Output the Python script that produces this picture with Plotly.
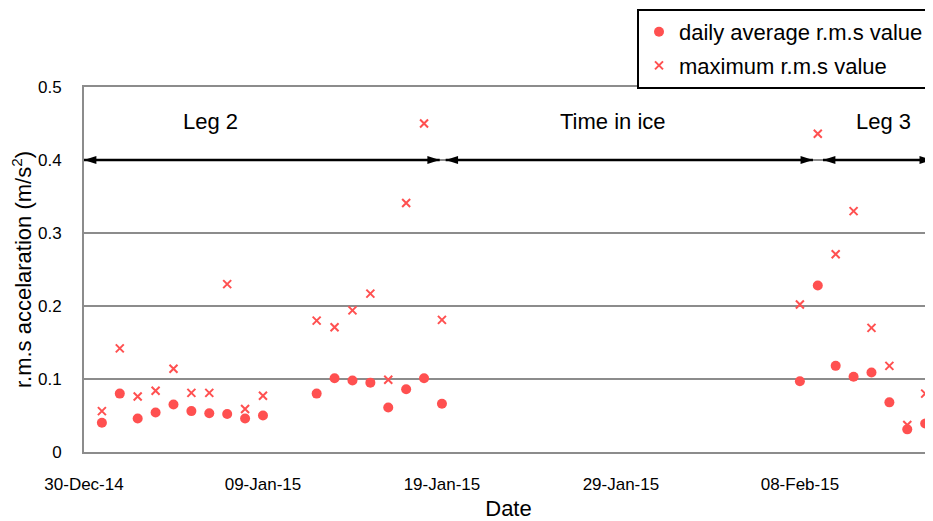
import plotly.graph_objects as go

# ---- data ----
dates = ["2014-12-31", "2015-01-01", "2015-01-02", "2015-01-03", "2015-01-04",
         "2015-01-05", "2015-01-06", "2015-01-07", "2015-01-08", "2015-01-09",
         "2015-01-12", "2015-01-13", "2015-01-14", "2015-01-15", "2015-01-16",
         "2015-01-17", "2015-01-18", "2015-01-19",
         "2015-02-08", "2015-02-09", "2015-02-10", "2015-02-11", "2015-02-12",
         "2015-02-13", "2015-02-14", "2015-02-15"]
daily_average = [0.040, 0.080, 0.046, 0.054, 0.065, 0.056, 0.053, 0.052, 0.046, 0.050,
                 0.080, 0.101, 0.098, 0.095, 0.061, 0.086, 0.101, 0.066,
                 0.097, 0.228, 0.118, 0.103, 0.109, 0.068, 0.031, 0.039]
maximum = [0.056, 0.142, 0.076, 0.084, 0.114, 0.081, 0.081, 0.230, 0.059, 0.077,
           0.180, 0.171, 0.194, 0.217, 0.099, 0.341, 0.450, 0.181,
           0.202, 0.436, 0.271, 0.330, 0.170, 0.118, 0.037, 0.080]

phase_labels = ["Leg 2", "Time in ice", "Leg 3"]
phase_start = ["2014-12-30 00:00", "2015-01-19 05:00", "2015-02-09 07:00"]
phase_end = ["2015-01-18 21:00", "2015-02-08 17:30", "2015-02-15 09:00"]
phase_label_x = ["2015-01-06 02:00", "2015-01-28 13:00", "2015-02-12 16:00"]
phase_arrow_y = 0.4
phase_label_y = 0.453

x_range = ["2014-12-30", "2015-02-15 10:30"]
y_range = [0, 0.5]

RED = "#FF5050"
FONT = "Liberation Sans, Arial, sans-serif"
GRID = "#8c8c8c"

fig = go.Figure()

# double-headed arrows marking the voyage phases
arr_x, arr_y, arr_ang = [], [], []
for s, e in zip(phase_start, phase_end):
    arr_x += [s, e, None]
    arr_y += [phase_arrow_y, phase_arrow_y, None]
    arr_ang += [270, 90, 0]
fig.add_trace(go.Scatter(
    x=arr_x, y=arr_y, mode="lines+markers", showlegend=False, hoverinfo="skip",
    line=dict(color="black", width=2.5),
    marker=dict(symbol="arrow", size=13, angle=arr_ang, color="black")))

fig.add_trace(go.Scatter(
    x=dates, y=daily_average, mode="markers", name="daily average r.m.s value",
    legendgroup="a",
    marker=dict(symbol="circle", size=10, color=RED)))
fig.add_trace(go.Scatter(
    x=dates, y=maximum, mode="markers", name="maximum r.m.s value",
    legendgroup="b",
    marker=dict(symbol="x-thin", size=8, color=RED, line=dict(color=RED, width=2))))

annotations = []
for lab, lx in zip(phase_labels, phase_label_x):
    annotations.append(dict(
        x=lx, y=phase_label_y, xref="x", yref="y", text=lab, showarrow=False,
        font=dict(family=FONT, size=22, color="black"),
        xanchor="center", yanchor="middle"))

# page body adds an 8px margin, so the figure is sized/offset to compensate
fig.update_layout(
    width=925, height=513,
    margin=dict(l=76, r=0, t=79, b=69, autoexpand=False),
    paper_bgcolor="white", plot_bgcolor="white",
    font=dict(family=FONT, color="black", size=17),
    annotations=annotations,
    showlegend=True,
    legend=dict(
        x=(629 - 76) / 849, y=(444 - 1) / 365, xanchor="left", yanchor="top",
        bgcolor="white", bordercolor="black", borderwidth=2,
        font=dict(family=FONT, size=22, color="black"),
        tracegroupgap=2, itemsizing="trace"),
    xaxis=dict(
        type="date", range=x_range, tick0="2014-12-30", dtick=10 * 86400000,
        tickformat="%d-%b-%y", showgrid=False, zeroline=False,
        showline=True, mirror=True, linecolor=GRID, linewidth=2,
        ticks="", ticklabelstandoff=16,
        tickfont=dict(family=FONT, size=17, color="black"),
        title=dict(text="Date", font=dict(family=FONT, size=22, color="black"), standoff=8)),
    yaxis=dict(
        range=y_range, dtick=0.1, tick0=0, showgrid=True, gridcolor=GRID, gridwidth=1.5,
        zeroline=False, showline=True, linecolor=GRID, linewidth=2,
        ticks="", ticklabelstandoff=17,
        tickfont=dict(family=FONT, size=17, color="black"),
        title=dict(text="r.m.s accelaration (m/s<sup>2</sup>)",
                   font=dict(family=FONT, size=22, color="black"), standoff=4)),
)

fig.write_html("out.html")
